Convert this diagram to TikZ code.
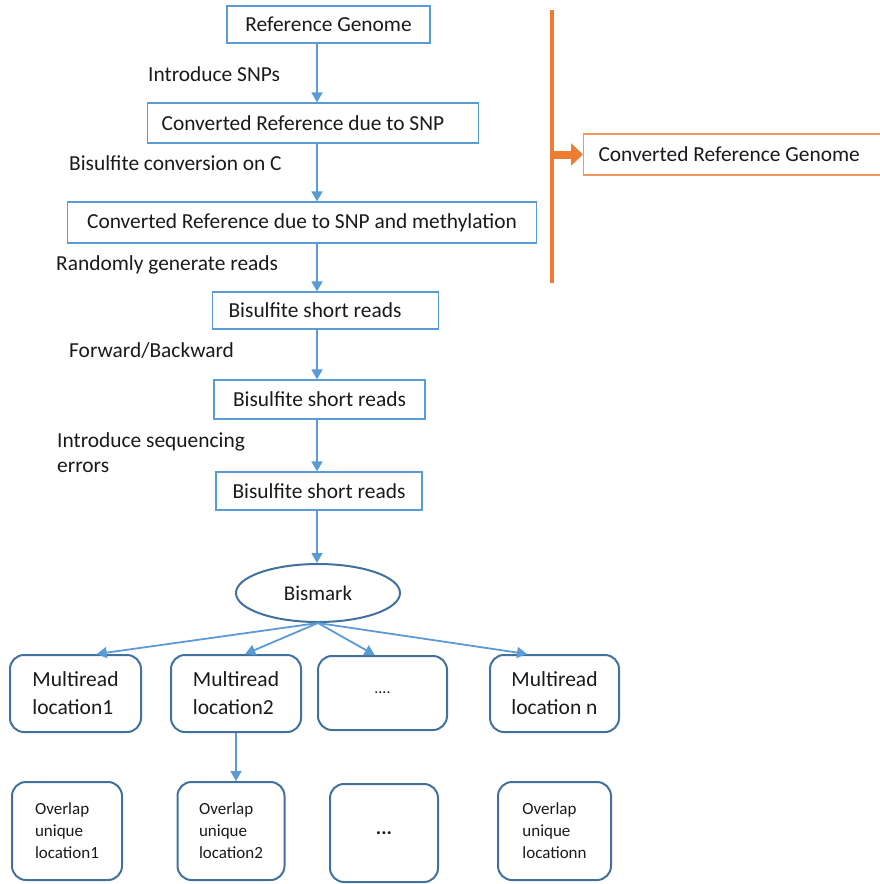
\documentclass[tikz,border=0pt]{standalone}
\usepackage{fontspec}
\setmainfont{Carlito}
\usetikzlibrary{arrows.meta,calc,shapes.geometric}

\definecolor{flowblue}{HTML}{5B9BD5}
\definecolor{edgeblue}{HTML}{41719C}
\definecolor{hlorange}{HTML}{ED7D31}
\definecolor{inktext}{HTML}{1A1A1A}

\begin{document}
\begin{tikzpicture}[
    x=1pt, y=-1pt,
    every node/.style={font=\fontsize{21.4}{28}\selectfont, text=inktext},
    box/.style={draw=flowblue, line width=1.2pt, inner sep=0pt},
    rbox/.style={draw=edgeblue, line width=2pt, rounded corners=14pt,
                 inner sep=0pt, align=left},
    obox/.style={draw=hlorange!80, line width=1.1pt, inner sep=0pt},
    lbl/.style={anchor=west, inner sep=0pt, align=left},
    flow/.style={draw=flowblue, line width=1.8pt,
                 -{Triangle[length=10pt,width=11pt]}},
  ]

  % page frame: [0,880] x [0,884], y runs downwards
  \clip (0,0) rectangle (880,884);

  \def\ax{317}         % x of the main chain of arrows

  % ------------------------------------------------------------------
  % main chain of boxes
  % ------------------------------------------------------------------
  \node[box, minimum width=203pt, minimum height=37pt] (rg)   at (328.5,24.5) {Reference Genome};
  \node[box, anchor=west, minimum height=40pt, text width=303pt, align=flush left,
        inner xsep=14pt] (snp) at (147,123) {Converted Reference due to SNP};
  \node[box, minimum width=469pt, minimum height=41pt] (meth) at (302,222.5) {Converted Reference due to SNP and methylation};
  \node[box, anchor=west, minimum height=37pt, text width=194pt, align=flush left,
        inner xsep=16pt] (bs1) at (212,310.5) {Bisulfite short reads};
  \node[box, minimum width=211pt, minimum height=39pt] (bs2)  at (319.5,399.5) {Bisulfite short reads};
  \node[box, minimum width=206pt, minimum height=38pt] (bs3)  at (319,491)    {Bisulfite short reads};

  \node[ellipse, draw=edgeblue, line width=2pt, minimum width=164pt,
        minimum height=58pt, inner sep=0pt,
        font=\fontsize{21}{28}\selectfont] (bismark) at (318,593) {Bismark};

  % step labels, left of the chain
  \node[lbl] (l1) at (148,74)  {Introduce SNPs};
  \node[lbl] (l2) at (69,163)  {Bisulfite conversion on C};
  \node[lbl] (l3) at (56,265)  {Randomly generate reads};
  \node[lbl] (l4) at (69,351)  {Forward/Backward};
  \node[lbl, font=\fontsize{21.4}{25}\selectfont] (l5) at (57,453) {Introduce sequencing\\errors};

  \draw[flow] (rg.south -| \ax,0)   -- (snp.north -| \ax,0);
  \draw[flow] (snp.south -| \ax,0)  -- (meth.north -| \ax,0);
  \draw[flow] (meth.south -| \ax,0) -- (bs1.north -| \ax,0);
  \draw[flow] (bs1.south -| \ax,0)  -- (bs2.north -| \ax,0);
  \draw[flow] (bs2.south -| \ax,0)  -- (bs3.north -| \ax,0);
  \draw[flow] (bs3.south -| \ax,0)  -- (bismark.north -| \ax,0);

  % ------------------------------------------------------------------
  % orange bracket on the right: the three references together
  % ------------------------------------------------------------------
  \coordinate (bartop) at (552,10);
  \coordinate (barbot) at (552,283);
  \coordinate (bar)    at (552,154.5);
  \draw[hlorange, line width=3.5pt] (bartop) -- (barbot);
  \node[obox, anchor=west, minimum height=41pt, text width=287pt, align=flush left,
        inner xsep=15pt] (crg) at (583,154.5) {Converted Reference Genome};
  \draw[hlorange, line width=8pt, -{Triangle[length=12pt,width=22pt]}]
       (bar) -- (crg.west);

  % ------------------------------------------------------------------
  % multiread locations
  % ------------------------------------------------------------------
  \node[rbox, minimum width=131pt, minimum height=77pt,
        font=\fontsize{21.5}{28}\selectfont] (mr1) at (75.5,693.5)  {Multiread\\location1};
  \node[rbox, minimum width=130pt, minimum height=77pt,
        font=\fontsize{21.5}{28}\selectfont] (mr2) at (236,693.5)   {Multiread\\location2};
  \node[rbox, minimum width=129pt, minimum height=74pt,
        font=\fontsize{16}{20}\selectfont] (mrd) at (382.5,693)   {....};
  \node[rbox, minimum width=129pt, minimum height=77pt,
        font=\fontsize{21.5}{28}\selectfont] (mrn) at (554.5,693.5) {Multiread\\location n};

  \draw[flow] (bismark.south) -- ($(mr1.north west)!0.66!(mr1.north east)$);
  \draw[flow] (bismark.south) -- ($(mr2.north west)!0.57!(mr2.north east)$);
  \draw[flow] (bismark.south) -- ($(mrd.north west)!0.44!(mrd.north east)$);
  \draw[flow] (bismark.south) -- ($(mrn.north west)!0.29!(mrn.north east)$);

  % ------------------------------------------------------------------
  % overlap unique locations (touching the bottom edge)
  % ------------------------------------------------------------------
  \node[rbox, minimum width=110pt, minimum height=98pt,
        font=\fontsize{17}{22}\selectfont] (ov1) at (67,831)    {Overlap\\unique\\location1};
  \node[rbox, minimum width=107pt, minimum height=98pt,
        font=\fontsize{17}{22}\selectfont] (ov2) at (231,831) {Overlap\\unique\\location2};
  \node[rbox, minimum width=108pt, minimum height=98pt,
        font=\fontsize{20}{22}\selectfont\bfseries] (ovd) at (384,833) {...};
  \node[rbox, minimum width=113pt, minimum height=98pt,
        font=\fontsize{17}{22}\selectfont] (ovn) at (554.5,831) {Overlap\\unique\\locationn};

  \draw[flow] (mr2.south) -- (mr2.south |- ov2.north);

\end{tikzpicture}
\end{document}
